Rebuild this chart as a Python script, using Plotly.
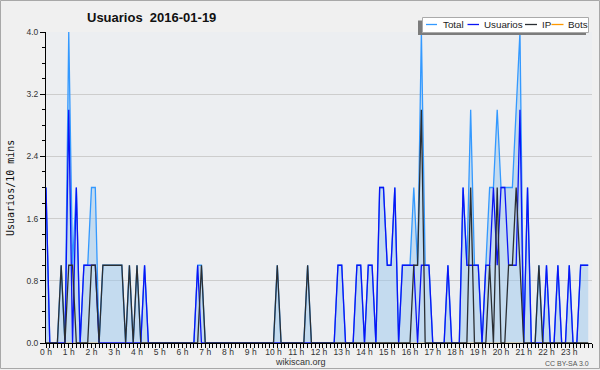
import plotly.graph_objects as go
import pandas as pd

# 10-minute slots over 2016-01-19
times = pd.date_range("2016-01-19 00:00", periods=144, freq="10min")

total = [
    2, 0, 0, 0, 1, 0, 4, 1, 2, 0, 1, 1,
    2, 2, 0, 1, 1, 1, 1, 1, 1, 0, 1, 0,
    1, 0, 1, 0, 0, 0, 0, 0, 0, 0, 0, 0,
    0, 0, 0, 0, 1, 1, 0, 0, 0, 0, 0, 0,
    0, 0, 0, 0, 0, 0, 0, 0, 0, 0, 0, 0,
    0, 1, 0, 0, 0, 0, 0, 0, 0, 1, 0, 0,
    0, 0, 0, 0, 0, 1, 1, 0, 0, 0, 1, 1,
    0, 1, 1, 0, 2, 2, 1, 1, 2, 0, 1, 1,
    1, 2, 1, 4, 1, 1, 0, 0, 0, 0, 1, 0,
    0, 0, 2, 1, 3, 1, 1, 0, 1, 2, 2, 3,
    2, 2, 2, 2, 3, 4, 0, 2, 0, 0, 1, 0,
    1, 0, 0, 1, 0, 0, 1, 0, 0, 1, 1, 1,
]
usuarios = [
    2, 0, 0, 0, 0, 0, 3, 0, 2, 0, 1, 1,
    1, 1, 0, 0, 0, 0, 0, 0, 0, 0, 0, 0,
    0, 0, 1, 0, 0, 0, 0, 0, 0, 0, 0, 0,
    0, 0, 0, 0, 1, 0, 0, 0, 0, 0, 0, 0,
    0, 0, 0, 0, 0, 0, 0, 0, 0, 0, 0, 0,
    0, 0, 0, 0, 0, 0, 0, 0, 0, 0, 0, 0,
    0, 0, 0, 0, 0, 1, 1, 0, 0, 0, 1, 1,
    0, 1, 1, 0, 2, 2, 1, 1, 2, 0, 1, 1,
    1, 1, 0, 1, 1, 1, 0, 0, 0, 0, 1, 0,
    0, 0, 2, 1, 1, 1, 1, 0, 1, 1, 2, 1,
    2, 2, 1, 1, 1, 3, 0, 2, 0, 0, 0, 0,
    1, 0, 0, 1, 0, 0, 1, 0, 0, 1, 1, 1,
]
ip = [
    0, 0, 0, 0, 1, 0, 1, 1, 0, 0, 0, 0,
    1, 1, 0, 1, 1, 1, 1, 1, 1, 0, 1, 0,
    1, 0, 0, 0, 0, 0, 0, 0, 0, 0, 0, 0,
    0, 0, 0, 0, 0, 1, 0, 0, 0, 0, 0, 0,
    0, 0, 0, 0, 0, 0, 0, 0, 0, 0, 0, 0,
    0, 1, 0, 0, 0, 0, 0, 0, 0, 1, 0, 0,
    0, 0, 0, 0, 0, 0, 0, 0, 0, 0, 0, 0,
    0, 0, 0, 0, 0, 0, 0, 0, 0, 0, 0, 0,
    0, 1, 1, 3, 0, 0, 0, 0, 0, 0, 0, 0,
    0, 0, 0, 0, 2, 0, 0, 0, 0, 1, 0, 2,
    0, 0, 1, 1, 2, 1, 0, 0, 0, 0, 1, 0,
    0, 0, 0, 0, 0, 0, 0, 0, 0, 0, 0, 0,
]
bots = [
    0, 0, 0, 0, 0, 0, 0, 0, 0, 0, 0, 0,
    0, 0, 0, 0, 0, 0, 0, 0, 0, 0, 0, 0,
    0, 0, 0, 0, 0, 0, 0, 0, 0, 0, 0, 0,
    0, 0, 0, 0, 0, 0, 0, 0, 0, 0, 0, 0,
    0, 0, 0, 0, 0, 0, 0, 0, 0, 0, 0, 0,
    0, 0, 0, 0, 0, 0, 0, 0, 0, 0, 0, 0,
    0, 0, 0, 0, 0, 0, 0, 0, 0, 0, 0, 0,
    0, 0, 0, 0, 0, 0, 0, 0, 0, 0, 0, 0,
    0, 0, 0, 0, 0, 0, 0, 0, 0, 0, 0, 0,
    0, 0, 0, 0, 0, 0, 0, 0, 0, 0, 0, 0,
    0, 0, 0, 0, 0, 0, 0, 0, 0, 0, 0, 0,
    0, 0, 0, 0, 0, 0, 0, 0, 0, 0, 0, 0,
]

hour_ticks = pd.date_range("2016-01-19 00:00", periods=24, freq="1h")
hour_labels = [f"{h} h" for h in range(24)]

series_names = ["Total", "Usuarios", "IP", "Bots"]
series_colors = ["#3399ff", "#0a14f5", "#2a2e33", "#ff9900"]

W, H = 600, 370
L, R, T, B = 46, 8, 32, 27
PW, PH = W - L - R, H - T - B


def px(x):
    return (x - L) / PW


def py(y):
    return (H - B - y) / PH


fig = go.Figure()
fig.add_trace(go.Scatter(x=times, y=bots, mode="lines", name="Bots",
                         line=dict(color=series_colors[3], width=1), showlegend=False))
fig.add_trace(go.Scatter(x=times, y=total, mode="lines", name="Total",
                         line=dict(color=series_colors[0], width=1.3),
                         fill="tozeroy", fillcolor="rgba(155,200,238,0.5)", showlegend=False))
fig.add_trace(go.Scatter(x=times, y=usuarios, mode="lines", name="Usuarios",
                         line=dict(color=series_colors[1], width=1.3), showlegend=False))
fig.add_trace(go.Scatter(x=times, y=ip, mode="lines", name="IP",
                         line=dict(color=series_colors[2], width=1.3), showlegend=False))

tickfont = dict(family="Liberation Sans", size=8.5, color="#333")

fig.update_layout(
    width=W, height=H,
    margin=dict(l=L, r=R, t=T, b=B),
    paper_bgcolor="#f0f0f0",
    plot_bgcolor="#eceef1",
    showlegend=False,
    xaxis=dict(
        type="date",
        range=["2016-01-19 00:00", "2016-01-20 00:00"],
        tickmode="array", tickvals=hour_ticks, ticktext=hour_labels,
        ticks="outside", ticklen=4, tickcolor="#000", tickwidth=1,
        ticklabelstandoff=-3,
        minor=dict(dtick=600000, tick0="2016-01-19", ticks="outside", ticklen=4,
                   tickcolor="#000", showgrid=False),
        showgrid=False, showline=True, linecolor="#000", linewidth=1,
        zeroline=False, tickfont=tickfont, tickangle=0,
    ),
    yaxis=dict(
        range=[0, 4], dtick=0.8, tick0=0, tickformat=".1f",
        ticks="outside", ticklen=5, tickcolor="#000",
        minor=dict(dtick=0.2, ticks="outside", ticklen=3, tickcolor="#000", showgrid=False),
        showgrid=True, gridcolor="#cdcdcd", gridwidth=1,
        showline=True, linecolor="#000", linewidth=1,
        zeroline=False, tickfont=tickfont,
    ),
)

shapes = [
    # outer frame
    dict(type="rect", xref="paper", yref="paper", x0=px(0.5), x1=px(599.5),
         y0=py(0.5), y1=py(368.5), line=dict(color="#a8a8a8", width=1), layer="below"),
    # legend shadow and box
    dict(type="rect", xref="paper", yref="paper", x0=px(418), x1=px(586),
         y0=py(20.5), y1=py(35), fillcolor="#7c7c7c", line=dict(width=0), layer="above"),
    dict(type="rect", xref="paper", yref="paper", x0=px(422.5), x1=px(588.5),
         y0=py(17.5), y1=py(32.5), fillcolor="#ffffff",
         line=dict(color="#aaaaaa", width=1), layer="above"),
]
legend_lines = [(426, 437), (467.5, 479), (525, 537), (551.5, 563.5)]
legend_text_x = [440.5, 482, 539.5, 565.5]
for (a, b), c in zip(legend_lines, series_colors):
    shapes.append(dict(type="line", xref="paper", yref="paper", x0=px(a), x1=px(b),
                       y0=py(24.5), y1=py(24.5), line=dict(color=c, width=1.3), layer="above"))

annotations = [
    dict(text="<b>Usuarios\u00a0\u00a02016-01-19</b>", xref="paper", yref="paper",
         x=px(151), y=py(17), xanchor="center", yanchor="middle", showarrow=False,
         font=dict(family="Liberation Sans", size=13, color="#111")),
    dict(text="Usuarios/10 mins", xref="paper", yref="paper", textangle=-90,
         x=px(10), y=py(188), xanchor="center", yanchor="middle", showarrow=False,
         font=dict(family="DejaVu Sans Mono", size=10, color="#111")),
    dict(text="wikiscan.org", xref="paper", yref="paper",
         x=px(300), y=py(362), xanchor="center", yanchor="middle", showarrow=False,
         font=dict(family="Liberation Sans", size=9, color="#333")),
    dict(text="CC BY-SA 3.0", xref="paper", yref="paper",
         x=px(591), y=py(363), xanchor="right", yanchor="middle", showarrow=False,
         font=dict(family="Liberation Sans", size=7, color="#555")),
]
for name, tx in zip(series_names, legend_text_x):
    annotations.append(dict(text=name, xref="paper", yref="paper",
                            x=px(tx), y=py(24.5), xanchor="left", yanchor="middle",
                            showarrow=False,
                            font=dict(family="Liberation Sans", size=9.8, color="#222")))

fig.update_layout(shapes=shapes, annotations=annotations)
fig.write_html("out.html")
